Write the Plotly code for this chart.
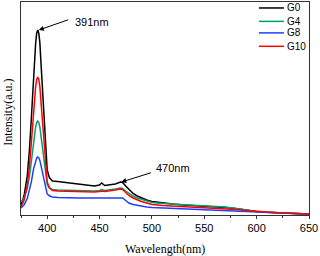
import plotly.graph_objects as go

wavelength = [375, 378, 381, 383, 385, 387, 389, 390, 391, 392, 393, 394, 395, 396, 397, 398, 399, 400,
              402, 405, 410, 420, 430, 440, 445, 450, 452, 455, 460, 465, 470, 472, 475, 478, 482, 486,
              490, 495, 500, 510, 520, 530, 540, 550, 560, 570, 580, 590, 600, 610, 620, 630, 640, 650]

g0 = [10, 19.7, 39.2, 64.3, 98.8, 142.2, 172.0, 181.8, 185, 181.8, 172.4, 153.5, 133.3, 113.4, 92.1, 72.7, 56.6, 45.2,
      37.6, 34, 33.5, 32, 31, 29.5, 29, 30, 32, 29.5, 30, 31, 33, 32.5, 29, 25.5, 21.5, 19,
      17, 15, 13.5, 12, 11, 10, 9.5, 9, 8.5, 7.5, 6.5, 5, 3.5, 2.8, 2.2, 1.8, 1.4, 1]

g4 = [13, 17.6, 26.8, 38.4, 54.4, 74.4, 88.1, 92.5, 94, 92.5, 88.2, 79.6, 70.4, 61.4, 51.8, 42.9, 35.6, 30.5,
      27.1, 25.5, 25, 24.5, 24, 24, 24, 24.5, 25.5, 24.5, 25, 26, 27, 26.5, 24, 21.5, 19, 17,
      15.5, 14, 12.5, 11.5, 11, 10.5, 10, 9.5, 9, 8, 6.5, 5, 3.5, 2.8, 2.2, 1.8, 1.4, 1]

g8 = [7, 10.3, 16.4, 23.8, 33.8, 46.1, 54.4, 57.1, 58, 57.1, 54.6, 49.5, 44.1, 38.8, 33.2, 28.1, 24.1, 21.2,
      19.2, 18, 17.5, 17, 17, 17, 17, 17, 17.5, 17, 17, 17.5, 17.5, 17, 14.5, 12, 10.5, 9.5,
      8.5, 8, 7.5, 7, 6.5, 6, 5.5, 5, 4.7, 4.3, 3.8, 3.2, 2.5, 2.1, 1.8, 1.5, 1.2, 1]

g10 = [8, 15, 29.5, 48.1, 73.7, 106.2, 128.3, 135.6, 138, 135.6, 128.5, 114.4, 99.3, 84.4, 68.5, 53.8, 41.7, 33.1,
       27.4, 24.5, 24, 23.5, 23, 23, 23, 23.5, 24, 23.5, 24, 25, 26, 25.5, 22.5, 19.5, 17, 15,
       13.5, 12, 10.5, 9.5, 9, 8.5, 8, 7.5, 7, 6.5, 5.5, 4.5, 3.5, 2.8, 2.2, 1.8, 1.4, 1]

series_names = ["G0", "G4", "G8", "G10"]
series_values = [g0, g4, g8, g10]
colors = ["#000000", "#00a070", "#1f3fff", "#ff0000"]

fig = go.Figure()
for name, vals, c in zip(series_names, series_values, colors):
    fig.add_trace(go.Scatter(x=wavelength, y=vals, mode="lines", name=name,
                             line=dict(color=c, width=1.5), showlegend=False))

axis_color = "#333333"
serif = "Liberation Serif, Times New Roman, serif"
fig.update_layout(
    width=320, height=256,
    margin=dict(l=21, r=11, t=2, b=41),
    plot_bgcolor="white", paper_bgcolor="white",
    font=dict(family="Liberation Sans, Arial", size=11, color="#000000"),
    showlegend=False,
    hovermode=False,
    xaxis=dict(range=[375, 650], dtick=50, tick0=400, ticks="outside", ticklen=3,
               tickcolor=axis_color, showline=True, linecolor=axis_color, linewidth=1,
               mirror=True, showgrid=False, zeroline=False, automargin=False,
               minor=dict(dtick=25, tick0=375, ticks="outside", ticklen=2, tickcolor=axis_color)),
    yaxis=dict(range=[0, 213], showticklabels=False, ticks="", showline=True,
               linecolor=axis_color, linewidth=1, mirror=True, showgrid=False, zeroline=False,
               automargin=False),
)

# axis titles
fig.add_annotation(xref="paper", yref="paper", x=0.5, y=-0.16, text="Wavelength(nm)",
                   showarrow=False, xanchor="center", yanchor="middle",
                   font=dict(family=serif, size=12))
fig.add_annotation(xref="paper", yref="paper", x=-0.045, y=0.48, text="Intensity(a.u.)",
                   showarrow=False, textangle=-90, xanchor="center", yanchor="middle",
                   font=dict(family=serif, size=12))

# manual legend
legend_rows = [0.972, 0.909, 0.855, 0.792]
for name, c, yy in zip(series_names, colors, legend_rows):
    fig.add_shape(type="line", xref="paper", yref="paper", x0=0.826, x1=0.913, y0=yy, y1=yy,
                  line=dict(color=c, width=1.5))
    fig.add_annotation(xref="paper", yref="paper", x=0.918, y=yy, text=name, showarrow=False,
                       xanchor="left", yanchor="middle", font=dict(size=10))

# peak annotations
fig.add_annotation(x=392, y=185, ax=421.5, ay=195.7, axref="x", ayref="y", xref="x", yref="y",
                   text="", showarrow=True, arrowhead=2, arrowsize=1, arrowwidth=1, arrowcolor="black")
fig.add_annotation(x=425, y=193, xref="x", yref="y", text="391nm", showarrow=False,
                   xanchor="left", yanchor="middle", font=dict(size=11))
fig.add_annotation(x=470.8, y=33, ax=500.5, ay=42.7, axref="x", ayref="y", xref="x", yref="y",
                   text="", showarrow=True, arrowhead=2, arrowsize=1, arrowwidth=1, arrowcolor="black")
fig.add_annotation(x=501.8, y=47.5, xref="x", yref="y", text="470nm", showarrow=False,
                   xanchor="left", yanchor="middle", font=dict(size=11))

fig.write_html("out.html", config={"displayModeBar": False},
               post_script="document.body.style.margin='0';")
